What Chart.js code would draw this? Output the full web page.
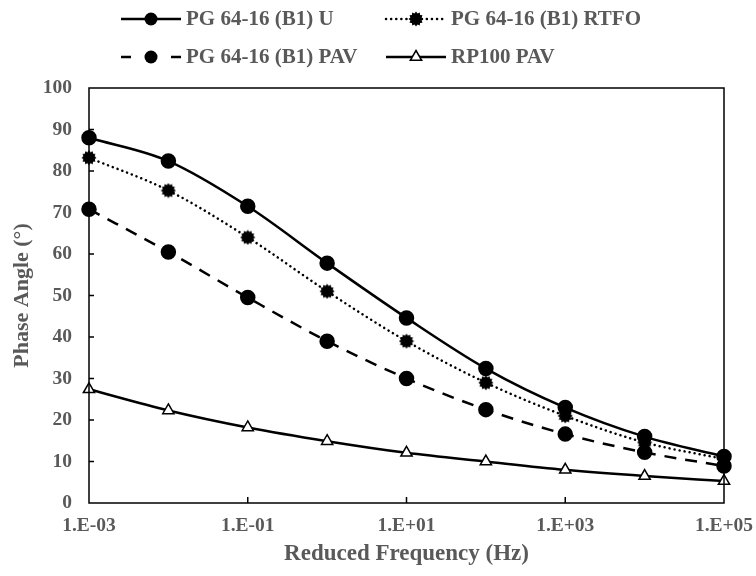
<!DOCTYPE html>
<html lang="en">
<head>
    <meta charset="UTF-8">
    <title>Phase Angle vs Reduced Frequency</title>
    <script src="https://cdn.jsdelivr.net/npm/chart.js"></script>
    <style>
        body { margin: 0; padding: 0; background: #fff; }
        #wrap { width: 756px; height: 576px; }
    </style>
</head>
<body>
    <div id="wrap"><canvas id="phaseChart" width="756" height="576"></canvas></div>
    <script>
        // reduced frequency (Hz), one point per decade
        const frequencies = [1e-3, 1e-2, 1e-1, 1e0, 1e1, 1e2, 1e3, 1e4, 1e5];
        const xTickValues = [1e-3, 1e-1, 1e1, 1e3, 1e5];

        // phase angle (deg)
        const unaged = [88, 82.4, 71.5, 57.8, 44.6, 32.4, 23, 16, 11.2];
        const rtfo = [83.2, 75.3, 64, 51, 39, 29, 21, 14.6, 10.6];
        const pav = [70.8, 60.5, 49.5, 39, 30, 22.5, 16.6, 12.2, 8.9];
        const rp100 = [27.4, 22.3, 18.2, 14.9, 12.1, 10, 8, 6.5, 5.3];

        const labels = ['PG 64-16 (B1) U', 'PG 64-16 (B1) RTFO', 'PG 64-16 (B1) PAV', 'RP100 PAV'];

        const gray = '#595959';
        const fontFamily = '"Liberation Serif", "Times New Roman", serif';

        // jagged "star" dot used for the RTFO series
        function makeStarDot() {
            const c = document.createElement('canvas');
            c.width = 16; c.height = 16;
            const g = c.getContext('2d');
            g.beginPath();
            const n = 12;
            for (let i = 0; i < n * 2; i++) {
                const r = i % 2 === 0 ? 7.5 : 5.8;
                const a = Math.PI * i / n;
                const px = 8 + r * Math.cos(a), py = 8 + r * Math.sin(a);
                if (i === 0) g.moveTo(px, py); else g.lineTo(px, py);
            }
            g.closePath();
            g.fillStyle = '#000';
            g.fill();
            return c;
        }
        const starDot = makeStarDot();

        function toPoints(ys) {
            return frequencies.map((f, i) => ({ x: f, y: ys[i] }));
        }

        function fmtExp(v) {
            const e = Math.round(Math.log10(v));
            return '1.E' + (e < 0 ? '-' : '+') + String(Math.abs(e)).padStart(2, '0');
        }

        const common = { borderColor: '#000', borderWidth: 2.5, cubicInterpolationMode: 'monotone' };

        const datasets = [
            Object.assign({
                label: labels[0], data: toPoints(unaged),
                pointStyle: 'circle', pointRadius: 6.5, pointBackgroundColor: '#000', pointBorderColor: '#000'
            }, common),
            Object.assign({
                label: labels[1], data: toPoints(rtfo),
                borderDash: [0.1, 5], borderCapStyle: 'round',
                pointStyle: starDot, pointRadius: 8
            }, common),
            Object.assign({
                label: labels[2], data: toPoints(pav),
                borderDash: [12, 9],
                pointStyle: 'circle', pointRadius: 6.5, pointBackgroundColor: '#000', pointBorderColor: '#000'
            }, common),
            Object.assign({
                label: labels[3], data: toPoints(rp100),
                pointStyle: 'triangle', pointRadius: 6.5, pointBorderWidth: 1.5,
                pointBackgroundColor: '#fff', pointBorderColor: '#000'
            }, common)
        ];

        // frame + inward tick marks
        const framePlugin = {
            id: 'frame',
            afterDatasetsDraw(chart) {
                const { ctx, chartArea: a, scales } = chart;
                ctx.save();
                ctx.strokeStyle = '#000';
                ctx.lineWidth = 1.5;
                ctx.strokeRect(a.left, a.top, a.right - a.left, a.bottom - a.top);
                ctx.beginPath();
                for (let v = 10; v < 100; v += 10) {
                    const y = scales.y.getPixelForValue(v);
                    ctx.moveTo(a.left, y); ctx.lineTo(a.left + 5, y);
                }
                xTickValues.slice(1, -1).forEach(v => {
                    const x = scales.x.getPixelForValue(v);
                    ctx.moveTo(x, a.bottom); ctx.lineTo(x, a.bottom - 6);
                });
                ctx.stroke();
                ctx.restore();
            }
        };

        // two-row legend with line + marker samples
        const legendPlugin = {
            id: 'twoRowLegend',
            afterDraw(chart) {
                const { ctx } = chart;
                const slots = [[121, 19], [386, 19], [121, 57], [386, 57]];
                ctx.save();
                chart.data.datasets.forEach((ds, i) => {
                    const [x0, y] = slots[i];
                    const x1 = x0 + 60, xm = x0 + 30;
                    ctx.strokeStyle = '#000';
                    ctx.lineWidth = 2.5;
                    ctx.lineCap = ds.borderCapStyle || 'butt';
                    ctx.setLineDash(ds.borderDash || []);
                    ctx.beginPath();
                    if (i === 2) {
                        ctx.setLineDash([]);
                        ctx.moveTo(x0, y); ctx.lineTo(x0 + 10, y);
                        ctx.moveTo(x1 - 10, y); ctx.lineTo(x1, y);
                    } else {
                        ctx.moveTo(x0, y); ctx.lineTo(x1, y);
                    }
                    ctx.stroke();
                    ctx.setLineDash([]);
                    if (ds.pointStyle === starDot) {
                        ctx.drawImage(starDot, xm - 8, y - 8);
                    } else if (ds.pointStyle === 'triangle') {
                        const r = 6.5;
                        ctx.beginPath();
                        ctx.moveTo(xm, y - r);
                        ctx.lineTo(xm + r * 0.87, y + r * 0.5);
                        ctx.lineTo(xm - r * 0.87, y + r * 0.5);
                        ctx.closePath();
                        ctx.fillStyle = '#fff'; ctx.fill();
                        ctx.lineWidth = 1.5; ctx.stroke();
                    } else {
                        ctx.beginPath();
                        ctx.arc(xm, y, 6.5, 0, Math.PI * 2);
                        ctx.fillStyle = '#000'; ctx.fill();
                    }
                    ctx.fillStyle = gray;
                    ctx.font = 'bold 21px ' + fontFamily;
                    ctx.textAlign = 'left';
                    ctx.textBaseline = 'middle';
                    ctx.fillText(ds.label, x1 + 5, y + 1);
                });
                ctx.restore();
            }
        };

        const ctx = document.getElementById('phaseChart').getContext('2d');
        new Chart(ctx, {
            type: 'line',
            data: { datasets: datasets },
            plugins: [framePlugin, legendPlugin],
            options: {
                responsive: false,
                animation: false,
                clip: false,
                layout: { padding: { left: 0, right: 32, top: 88, bottom: 0 } },
                plugins: { legend: { display: false }, tooltip: { enabled: false } },
                scales: {
                    x: {
                        type: 'logarithmic',
                        min: 1e-3, max: 1e5,
                        afterBuildTicks(scale) { scale.ticks = xTickValues.map(v => ({ value: v })); },
                        afterFit(scale) {
                            scale.height = 73;
                            scale.paddingLeft = 0;
                            scale.paddingRight = 0;
                        },
                        grid: { display: false, drawTicks: false },
                        border: { display: false },
                        ticks: {
                            autoSkip: false, maxRotation: 0, padding: 11,
                            color: gray, font: { family: fontFamily, size: 19.5, weight: 'bold' },
                            callback: v => fmtExp(v)
                        },
                        title: {
                            display: true, text: 'Reduced Frequency (Hz)',
                            color: gray, font: { family: fontFamily, size: 23, weight: 'bold' },
                            padding: { top: 0, bottom: 8 }
                        }
                    },
                    y: {
                        min: 0, max: 100,
                        afterFit(scale) { scale.width = 89; },
                        grid: { display: false, drawTicks: false },
                        border: { display: false },
                        ticks: {
                            stepSize: 10, padding: 17,
                            color: gray, font: { family: fontFamily, size: 19.5, weight: 'bold' }
                        },
                        title: {
                            display: true, text: 'Phase Angle (°)',
                            color: gray, font: { family: fontFamily, size: 22, weight: 'bold' },
                            padding: { top: 9, bottom: 0 }
                        }
                    }
                }
            }
        });
    </script>
</body>
</html>
